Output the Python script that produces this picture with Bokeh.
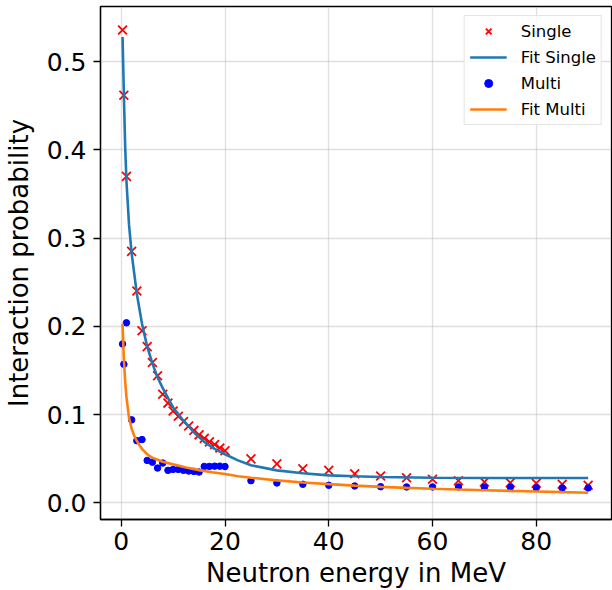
from bokeh.plotting import figure
from bokeh.models import Range1d, FixedTicker, Legend, LegendItem, NumeralTickFormatter
from bokeh.embed import file_html
from bokeh.resources import INLINE

# Neutron energies (MeV)
energy = [0.25, 0.5, 1, 2, 3, 4, 5, 6, 7, 8, 9, 10, 11, 12, 13, 14, 15, 16, 17, 18,
          19, 20, 25, 30, 35, 40, 45, 50, 55, 60, 65, 70, 75, 80, 85, 90]

# Interaction probability, single interactions
single = [0.536, 0.462, 0.370, 0.285, 0.240, 0.195, 0.177, 0.159, 0.144, 0.123,
          0.113, 0.104, 0.098, 0.092, 0.087, 0.082, 0.077, 0.073, 0.069, 0.066,
          0.062, 0.059, 0.0497, 0.0441, 0.0385, 0.0367, 0.0329, 0.0303, 0.0284,
          0.0266, 0.0250, 0.0235, 0.0227, 0.0221, 0.0209, 0.0198]

# Interaction probability, multiple interactions
multi = [0.180, 0.157, 0.204, 0.094, 0.0704, 0.0716, 0.048, 0.046, 0.0393, 0.045,
         0.0367, 0.0378, 0.0378, 0.0367, 0.0359, 0.0355, 0.0348, 0.0412, 0.0412,
         0.0415, 0.0415, 0.041, 0.0250, 0.0224, 0.0209, 0.0198, 0.0190, 0.0182,
         0.0179, 0.0179, 0.0179, 0.0176, 0.0176, 0.0171, 0.0168, 0.0168]

# Fit curves
fit_single_x = [0.25, 0.5, 0.75, 1.0, 1.5, 2.0, 3.0, 4.0, 5.0, 6.0, 7.0, 8.0, 9.0,
                10, 12, 14, 16, 18, 20, 22.5, 25, 30, 35, 40, 45, 50, 60, 70, 80, 90]
fit_single_y = [0.528, 0.464, 0.405, 0.365, 0.315, 0.283, 0.237, 0.203, 0.177,
                0.158, 0.142, 0.130, 0.119, 0.108, 0.093, 0.080, 0.069, 0.061,
                0.055, 0.048, 0.0425, 0.0367, 0.0335, 0.031, 0.0300, 0.0291,
                0.0284, 0.0281, 0.0280, 0.0280]

fit_multi_x = [0.25, 0.5, 0.75, 1.0, 1.5, 2.0, 2.5, 3, 4, 5, 6, 8, 10, 12.5, 15,
               17.5, 20, 22.5, 25, 30, 35, 40, 45, 50, 55, 60, 65, 70, 75, 80, 85, 90]
fit_multi_y = [0.203, 0.163, 0.138, 0.120, 0.096, 0.084, 0.076, 0.070, 0.061,
               0.055, 0.051, 0.0465, 0.0435, 0.040, 0.037, 0.0345, 0.0325, 0.030,
               0.0284, 0.0254, 0.0230, 0.0211, 0.0194, 0.0180, 0.0169, 0.0159,
               0.0150, 0.0142, 0.0134, 0.0127, 0.0120, 0.0114]

x_ticks = [0, 20, 40, 60, 80]
x_tick_labels = ["0", "20", "40", "60", "80"]
y_ticks = [0.0, 0.1, 0.2, 0.3, 0.4, 0.5]
y_tick_labels = ["0.0", "0.1", "0.2", "0.3", "0.4", "0.5"]

FONT = "DejaVu Sans"

p = figure(width=612, height=590, output_backend="svg", toolbar_location=None,
           x_range=Range1d(-4, 94.5), y_range=Range1d(-0.019, 0.5626),
           min_border_left=97, min_border_right=1, min_border_top=6,
           min_border_bottom=68)
p.background_fill_color = "white"
p.border_fill_color = "white"
p.outline_line_color = "black"
p.outline_line_width = 1.3
p.outline_line_alpha = 1

r1 = p.scatter(energy, single, marker="x", size=12.5, line_color="red", line_width=1.8)
r2 = p.line(fit_single_x, fit_single_y, line_color="#1f77b4", line_width=2.6)
r3 = p.scatter(energy, multi, marker="circle", size=6.5, fill_color="blue",
               line_color="blue")
r4 = p.line(fit_multi_x, fit_multi_y, line_color="#ff7f0e", line_width=2.6)

p.xaxis.ticker = FixedTicker(ticks=x_ticks)
p.yaxis.ticker = FixedTicker(ticks=y_ticks)
p.xaxis.formatter = NumeralTickFormatter(format="0")
p.yaxis.formatter = NumeralTickFormatter(format="0.0")
p.xaxis.major_label_overrides = dict(zip(x_ticks, x_tick_labels))
p.yaxis.major_label_overrides = dict(zip(y_ticks, y_tick_labels))

p.xaxis.axis_label = "Neutron energy in MeV"
p.yaxis.axis_label = "Interaction probability"
for ax in (p.xaxis, p.yaxis):
    ax.axis_label_text_font = FONT
    ax.axis_label_text_font_size = "26px"
    ax.axis_label_text_font_style = "normal"
    ax.axis_label_text_color = "black"
    ax.major_label_text_font = FONT
    ax.major_label_text_font_size = "25px"
    ax.major_label_text_color = "black"
    ax.major_tick_out = 7
    ax.major_tick_in = 0
    ax.minor_tick_out = 0
    ax.minor_tick_in = 0
    ax.major_tick_line_color = "black"
    ax.major_tick_line_width = 1.3
    ax.axis_line_color = "black"
    ax.axis_line_width = 1.3
p.xaxis.major_label_standoff = 5
p.yaxis.major_label_standoff = 7
p.xaxis.axis_label_standoff = 5
p.yaxis.axis_label_standoff = 10

p.xgrid.ticker = FixedTicker(ticks=x_ticks)
p.ygrid.ticker = FixedTicker(ticks=y_ticks)
p.grid.grid_line_color = "#b0b0b0"
p.grid.grid_line_alpha = 0.4
p.grid.grid_line_width = 1.3

legend = Legend(items=[LegendItem(label="Single", renderers=[r1]),
                       LegendItem(label="Fit Single", renderers=[r2]),
                       LegendItem(label="Multi", renderers=[r3]),
                       LegendItem(label="Fit Multi", renderers=[r4])],
                location="top_right")
legend.label_text_font = FONT
legend.label_text_font_size = "16.5px"
legend.label_text_color = "black"
legend.glyph_width = 37
legend.glyph_height = 20
legend.label_height = 20
legend.spacing = 6
legend.padding = 5
legend.margin = 9
legend.label_standoff = 14
legend.border_line_color = "#cccccc"
legend.border_line_width = 1
legend.background_fill_alpha = 0.8
p.add_layout(legend)

open("out.html", "w").write(file_html(p, INLINE))
